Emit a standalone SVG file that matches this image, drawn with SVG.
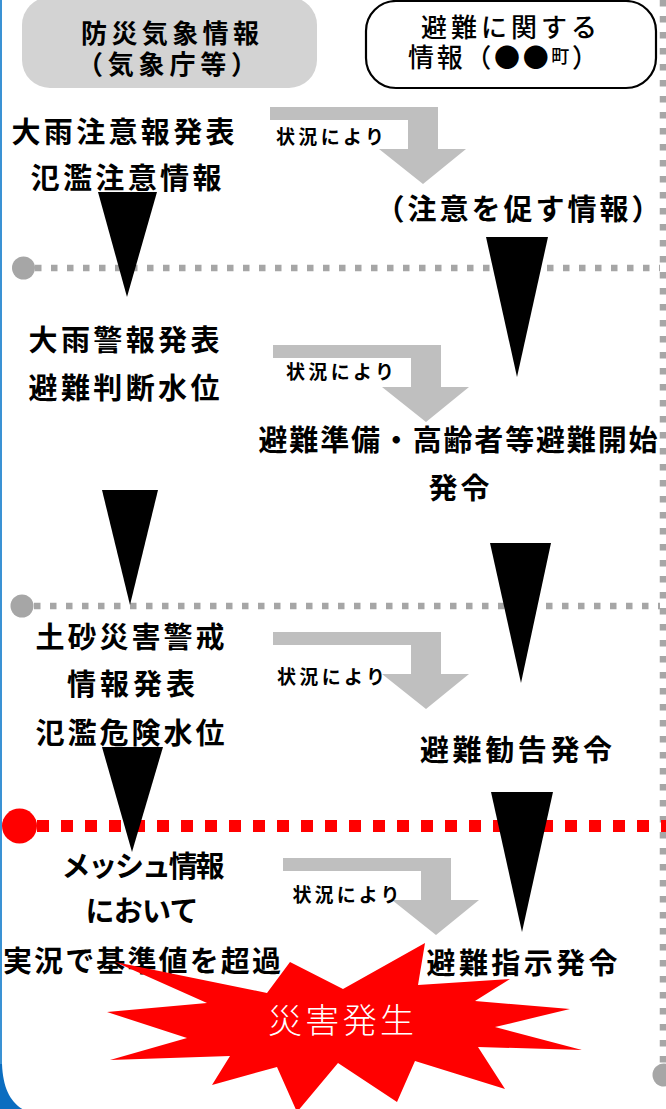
<svg xmlns="http://www.w3.org/2000/svg" width="666" height="1109" viewBox="0 0 666 1109">
<defs>
<style>
.t{font-family:"Noto Sans CJK JP","Noto Sans CJK SC",sans-serif;font-weight:700;fill:#000;text-anchor:middle;dominant-baseline:central;font-size:29px}
.s{font-family:"Noto Sans CJK JP","Noto Sans CJK SC",sans-serif;font-weight:700;fill:#000;text-anchor:middle;dominant-baseline:central;font-size:19px}
.h{font-family:"Noto Sans CJK JP","Noto Sans CJK SC",sans-serif;fill:#000;text-anchor:middle;dominant-baseline:central;font-size:26px}
.gd{stroke:#a6a6a6;stroke-width:6.5;stroke-dasharray:6.5 9.5;fill:none}
.gc{fill:#a6a6a6}
.tri{fill:#000}
.ga{fill:#bfbfbf}
</style>
<path id="bend" d="M0,0 H168 V42 H196 L153,77 L109,42 H138 V13 H0 Z"/>
</defs>
<rect width="666" height="1109" fill="#fff"/>
<g id="frame">
<line x1="1" y1="0" x2="1" y2="1075" stroke="#3a92d4" stroke-width="2"/>
<path d="M0,1064 L2,1064 C3,1088 10,1102 24,1110 L0,1110 Z" fill="#0b6dc0"/>
</g>
<g id="separators">
<line class="gd" x1="663" y1="0" x2="663" y2="1070"/>
<circle class="gc" cx="664" cy="1075" r="11.5"/>
<line class="gd" x1="35" y1="268" x2="660" y2="268"/>
<circle class="gc" cx="23.5" cy="268" r="11.5"/>
<line class="gd" x1="34" y1="606" x2="660" y2="606"/>
<circle class="gc" cx="22" cy="606" r="11.5"/>
<line x1="37" y1="826" x2="666" y2="826" stroke="#ff0000" stroke-width="12" stroke-dasharray="12 12"/>
<circle cx="19.5" cy="826" r="17.5" fill="#ff0000"/>
</g>
<g id="header-left">
<rect x="22" y="-3" width="295" height="91" rx="28" fill="#d3d3d3"/>
<text class="h" x="170" y="31" font-weight="700" textLength="178" lengthAdjust="spacing">防災気象情報</text>
<text class="h" x="167" y="62" font-weight="700" textLength="180" lengthAdjust="spacing">（気象庁等）</text>
</g>
<g id="header-right">
<rect x="366" y="1" width="290" height="87" rx="30" fill="#fff" stroke="#000" stroke-width="2.2"/>
<text class="h" x="509" y="25" font-weight="500" textLength="176" lengthAdjust="spacing">避難に関する</text>
<text class="h" x="503" y="55" font-weight="500" textLength="190" lengthAdjust="spacing">情報（●●<tspan font-size="18">町</tspan>）</text>
</g>
<g id="connectors">
<polygon class="tri" points="98,192 157,192 127,297"/>
<polygon class="tri" points="102,490 158,490 130,605"/>
<polygon class="tri" points="102,747 163,747 132,852"/>
<polygon class="tri" points="486,237 548,237 517,377"/>
<polygon class="tri" points="490,543 551,543 521,683"/>
<polygon class="tri" points="491,792 553,792 522,932"/>
<use href="#bend" class="ga" x="270" y="107"/>
<use href="#bend" class="ga" x="273" y="345"/>
<use href="#bend" class="ga" x="273" y="632"/>
<use href="#bend" class="ga" x="283" y="858"/>
</g>
<g id="arrow-labels">
<text class="s" x="330" y="135" textLength="108" lengthAdjust="spacing">状況により</text>
<text class="s" x="340" y="370" textLength="108" lengthAdjust="spacing">状況により</text>
<text class="s" x="331" y="675" textLength="108" lengthAdjust="spacing">状況により</text>
<text class="s" x="346" y="893" textLength="107" lengthAdjust="spacing">状況により</text>
</g>
<g id="node-l1">
<text class="t" x="123" y="130" textLength="223" lengthAdjust="spacing">大雨注意報発表</text>
<text class="t" x="126" y="176" textLength="191" lengthAdjust="spacing">氾濫注意情報</text>
</g>
<g id="node-l2">
<text class="t" x="124" y="338" textLength="191" lengthAdjust="spacing">大雨警報発表</text>
<text class="t" x="124" y="386" textLength="191" lengthAdjust="spacing">避難判断水位</text>
</g>
<g id="node-l3">
<text class="t" x="130" y="635" textLength="189" lengthAdjust="spacing">土砂災害警戒</text>
<text class="t" x="131" y="682" textLength="128" lengthAdjust="spacing">情報発表</text>
<text class="t" x="130" y="731" textLength="189" lengthAdjust="spacing">氾濫危険水位</text>
</g>
<g id="node-l4">
<text class="t" x="143" y="864" textLength="163" lengthAdjust="spacing">メッシュ情報</text>
<text class="t" x="142" y="909" textLength="113" lengthAdjust="spacing">において</text>
<text class="t" x="142" y="959" textLength="278" lengthAdjust="spacing">実況で基準値を超過</text>
</g>
<g id="node-r1">
<text class="t" x="518" y="207" textLength="285" lengthAdjust="spacing">（注意を促す情報）</text>
</g>
<g id="node-r2">
<text class="t" x="458" y="438" textLength="399" lengthAdjust="spacing">避難準備・高齢者等避難開始</text>
<text class="t" x="459" y="486" textLength="61" lengthAdjust="spacing">発令</text>
</g>
<g id="node-r3">
<text class="t" x="516" y="748" textLength="192" lengthAdjust="spacing">避難勧告発令</text>
</g>
<g id="node-r4">
<text class="t" x="522" y="961" textLength="191" lengthAdjust="spacing">避難指示発令</text>
</g>
<g id="disaster">
<polygon fill="#ff0000" points="290,962 267,993 115,962 207,1003 107,1012 187,1038 110,1060 230,1056 212,1085 277,1067 297,1112 338,1063 397,1102 415,1061 505,1089 478,1047 582,1050 495,1027 570,1009 475,1001 510,979 418,985 425,943 343,989"/>
<text x="341" y="1018" font-family="Noto Sans CJK JP, sans-serif" font-weight="200" font-size="34" fill="#fff" text-anchor="middle" dominant-baseline="central" textLength="146" lengthAdjust="spacing">災害発生</text>
</g>
</svg>
